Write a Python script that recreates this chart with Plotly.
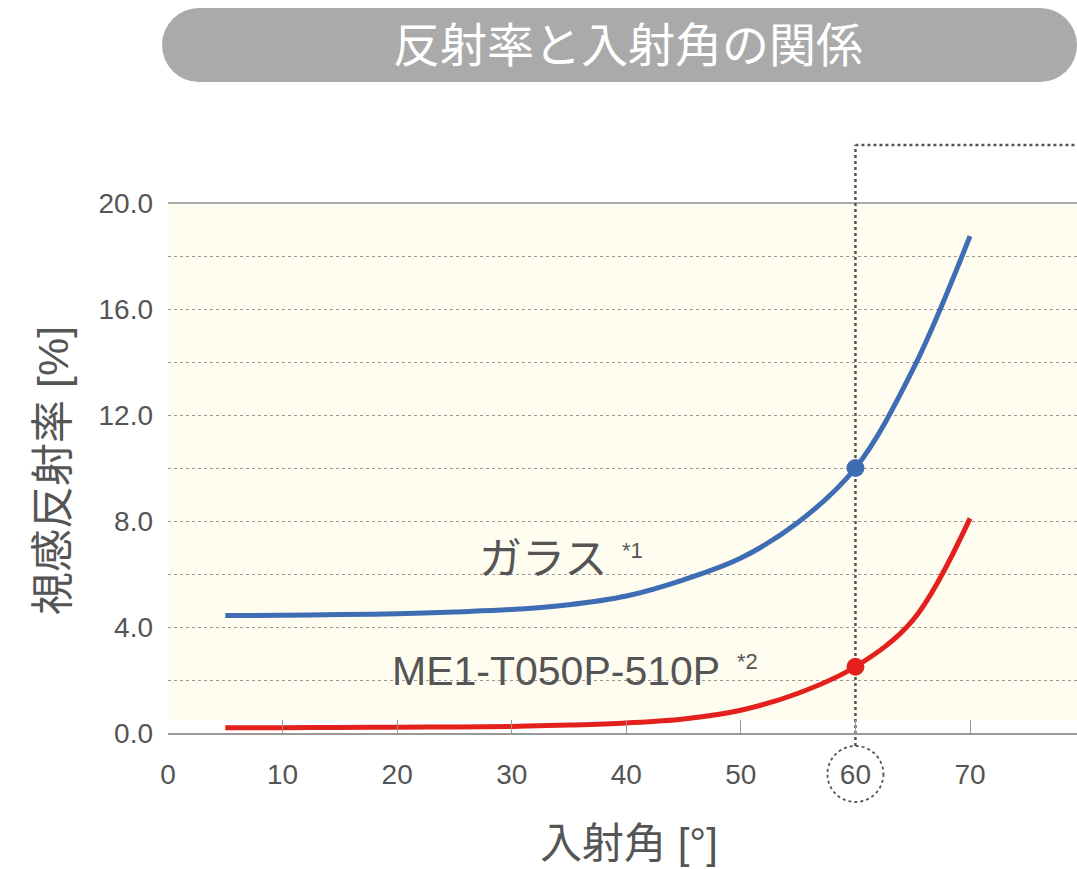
import plotly.graph_objects as go

# ---- data ----
angles = [5, 10, 15, 20, 25, 30, 35, 40, 45, 50, 55, 60, 65, 70]
glass = [4.43, 4.44, 4.47, 4.50, 4.57, 4.66, 4.84, 5.17, 5.78, 6.60, 7.95, 10.0, 13.7, 18.75]
me1 = [0.20, 0.20, 0.21, 0.22, 0.23, 0.25, 0.30, 0.38, 0.53, 0.86, 1.50, 2.50, 4.25, 8.10]
highlight_angle = 60
x_ticks = [0, 10, 20, 30, 40, 50, 60, 70]
y_ticks = [0, 4, 8, 12, 16, 20]

title_text = "反射率と入射角の関係"
x_title = "入射角 [°]"
y_title = "視感反射率 [%]"
glass_label = "ガラス"
me1_label = "ME1-T050P-510P"

# ---- layout geometry ----
W, H = 1077, 869
L, R, T, B = 168, 0, 203, 136
PW = W - L - R
PH = H - T - B
XMAX = PW * 70 / 802.0
YMAX = 20.0


def px_x(px):
    return (px - L) / PW


def px_y(py):
    return (H - B - py) / PH


FONT = "Liberation Sans, Noto Sans CJK JP, sans-serif"
TXT = "#555555"
BLUE = "#3f6db4"
RED = "#e4201c"
DOT = "#555555"

fig = go.Figure()

fig.add_trace(go.Scatter(x=angles, y=glass, mode="lines",
                         line=dict(color=BLUE, width=5, shape="spline", smoothing=1.0),
                         hoverinfo="skip", showlegend=False))
fig.add_trace(go.Scatter(x=angles, y=me1, mode="lines",
                         line=dict(color=RED, width=5, shape="spline", smoothing=1.0),
                         hoverinfo="skip", showlegend=False))

hi = angles.index(highlight_angle)
fig.add_trace(go.Scatter(x=[angles[hi]], y=[glass[hi]], mode="markers",
                         marker=dict(color=BLUE, size=18), showlegend=False, hoverinfo="skip"))
fig.add_trace(go.Scatter(x=[angles[hi]], y=[me1[hi]], mode="markers",
                         marker=dict(color=RED, size=18), showlegend=False, hoverinfo="skip"))

shapes = []
# yellow background band
shapes.append(dict(type="rect", xref="paper", yref="paper", x0=0, x1=1,
                   y0=0.5 / YMAX, y1=1, fillcolor="#fffdf0", line=dict(width=0), layer="below"))
# top solid line at 20
shapes.append(dict(type="line", xref="paper", yref="paper", x0=0, x1=1, y0=1, y1=1,
                   line=dict(color="#8c8c8c", width=1.5), layer="below"))
# highlight box lines
xh = highlight_angle / XMAX
shapes.append(dict(type="line", xref="paper", yref="paper", x0=xh, x1=xh,
                   y0=px_y(746), y1=px_y(145), line=dict(color=DOT, width=2.5, dash="dot"),
                   layer="below"))
shapes.append(dict(type="line", xref="paper", yref="paper", x0=xh, x1=1.01,
                   y0=px_y(145), y1=px_y(145), line=dict(color=DOT, width=2.5, dash="dot"),
                   layer="below"))
# circle around 60 label
cx = L + xh * PW
cy, rad = 774, 28
shapes.append(dict(type="circle", xref="paper", yref="paper",
                   x0=px_x(cx - rad), x1=px_x(cx + rad), y0=px_y(cy + rad), y1=px_y(cy - rad),
                   line=dict(color=DOT, width=1.8, dash="dot")))
# title pill
pt, pb, pl, pr = 8, 82, 162, 1077
pr_rad = (pb - pt) / 2
shapes.append(dict(type="rect", xref="paper", yref="paper",
                   x0=px_x(pl + pr_rad), x1=px_x(pr - pr_rad), y0=px_y(pb), y1=px_y(pt),
                   fillcolor="#aaaaaa", line=dict(width=0)))
for c in (pl + pr_rad, pr - pr_rad):
    shapes.append(dict(type="circle", xref="paper", yref="paper",
                       x0=px_x(c - pr_rad), x1=px_x(c + pr_rad), y0=px_y(pb), y1=px_y(pt),
                       fillcolor="#aaaaaa", line=dict(width=0)))

annotations = [
    dict(text=title_text, xref="paper", yref="paper", x=px_x(628), y=px_y(45),
         showarrow=False, font=dict(size=47, color="white", family=FONT),
         xanchor="center", yanchor="middle"),
    dict(text=x_title, xref="paper", yref="paper", x=px_x(629), y=px_y(843),
         showarrow=False, font=dict(size=42, color=TXT, family=FONT),
         xanchor="center", yanchor="middle"),
    dict(text=y_title, xref="paper", yref="paper", x=px_x(53), y=px_y(471),
         showarrow=False, font=dict(size=43, color=TXT, family=FONT), textangle=-90,
         xanchor="center", yanchor="middle"),
    dict(text=glass_label, x=32.7, y=6.55, showarrow=False,
         font=dict(size=43, color=TXT, family=FONT), xanchor="center", yanchor="middle"),
    dict(text="*1", x=40.5, y=6.9, showarrow=False,
         font=dict(size=22, color=TXT, family=FONT), xanchor="center", yanchor="middle"),
    dict(text=me1_label, x=33.9, y=2.35, showarrow=False,
         font=dict(size=41, color=TXT, family=FONT), xanchor="center", yanchor="middle"),
    dict(text="*2", x=50.6, y=2.7, showarrow=False,
         font=dict(size=22, color=TXT, family=FONT), xanchor="center", yanchor="middle"),
]

fig.update_layout(
    width=W, height=H,
    margin=dict(l=L, r=R, t=T, b=B),
    paper_bgcolor="white",
    plot_bgcolor="rgba(0,0,0,0)",
    shapes=shapes,
    annotations=annotations,
    font=dict(family=FONT, color=TXT),
    xaxis=dict(range=[0, XMAX], tickvals=x_ticks, ticktext=[str(v) for v in x_ticks],
               showgrid=False, zeroline=False, showline=True, linecolor="#999999", linewidth=1.5,
               ticks="inside", ticklen=13, tickcolor="#999999", tickwidth=1.2,
               tickfont=dict(size=28, color=TXT, family=FONT), ticklabelstandoff=16,
               fixedrange=True),
    yaxis=dict(range=[0, YMAX], tickvals=y_ticks, ticktext=["%.1f" % v for v in y_ticks],
               showgrid=True, gridcolor="#9a9a9a", griddash="dot", gridwidth=1,
               minor=dict(dtick=2, showgrid=True, gridcolor="#9a9a9a", griddash="dot", gridwidth=1),
               zeroline=False, showline=False, ticks="",
               tickfont=dict(size=28, color=TXT, family=FONT), ticklabelstandoff=14,
               fixedrange=True),
)

fig.write_html("out.html")
